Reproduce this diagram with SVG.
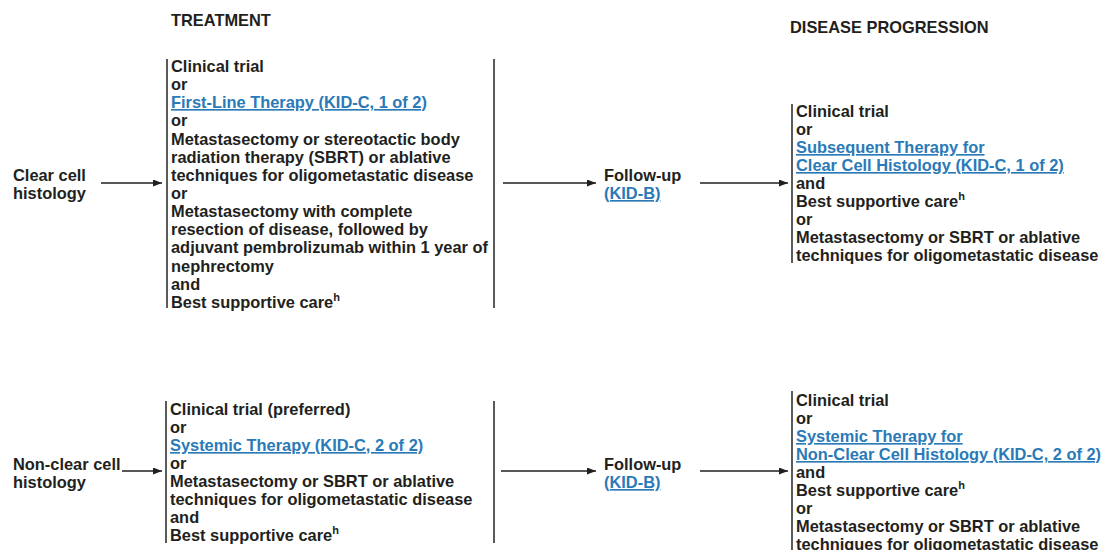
<svg xmlns="http://www.w3.org/2000/svg" width="1104" height="550" viewBox="0 0 1104 550">
<defs>
<marker id="ah" viewBox="0 0 10 10" refX="10" refY="5" markerWidth="9" markerHeight="7" markerUnits="userSpaceOnUse" orient="auto" preserveAspectRatio="none"><path d="M0,0 L10,5 L0,10 z" fill="#231f20"/></marker>
<style>
text{font-family:"Liberation Sans",Arial,Helvetica,sans-serif;font-weight:bold;font-size:16.4px;fill:#231f20}
.lnk{fill:#2a7ab8;text-decoration:underline}
.sup{font-size:11px}
.br{stroke:#333;stroke-width:1.6;fill:none}
.ar{stroke:#231f20;stroke-width:1.3;fill:none;marker-end:url(#ah)}
</style>
</defs>
<rect width="1104" height="550" fill="#fff"/>
<g id="headers">
<text x="171" y="26">TREATMENT</text>
<text x="790" y="33">DISEASE PROGRESSION</text>
</g>
<g id="clear-cell">
<text x="13" y="181">Clear cell</text>
<text x="13" y="199">histology</text>
</g>
<g id="treatment-clear">
<path class="br" d="M167,59 V308 M494,59 V308"/>
<text x="171" y="72">Clinical trial</text>
<text x="171" y="90">or</text>
<text x="171" y="108" class="lnk">First-Line Therapy (KID-C, 1 of 2)</text>
<text x="171" y="126">or</text>
<text x="171" y="145">Metastasectomy or stereotactic body</text>
<text x="171" y="163">radiation therapy (SBRT) or ablative</text>
<text x="171" y="181">techniques for oligometastatic disease</text>
<text x="171" y="199">or</text>
<text x="171" y="217">Metastasectomy with complete</text>
<text x="171" y="235">resection of disease, followed by</text>
<text x="171" y="253">adjuvant pembrolizumab within 1 year of</text>
<text x="171" y="272">nephrectomy</text>
<text x="171" y="290">and</text>
<text x="171" y="308">Best supportive care<tspan class="sup" dy="-7">h</tspan></text>
</g>
<g id="followup-clear">
<text x="604" y="181">Follow-up</text>
<text x="604" y="199" class="lnk">(KID-B)</text>
</g>
<g id="progression-clear">
<path class="br" d="M792,104 V263"/>
<text x="796" y="117">Clinical trial</text>
<text x="796" y="135">or</text>
<text x="796" y="153" class="lnk">Subsequent Therapy for</text>
<text x="796" y="171" class="lnk">Clear Cell Histology (KID-C, 1 of 2)</text>
<text x="796" y="189">and</text>
<text x="796" y="207">Best supportive care<tspan class="sup" dy="-7">h</tspan></text>
<text x="796" y="225">or</text>
<text x="796" y="243">Metastasectomy or SBRT or ablative</text>
<text x="796" y="261">techniques for oligometastatic disease</text>
</g>
<g id="non-clear-cell">
<text x="13" y="470">Non-clear cell</text>
<text x="13" y="488">histology</text>
</g>
<g id="treatment-nonclear">
<path class="br" d="M166,401 V543 M494,401 V543"/>
<text x="170" y="415">Clinical trial (preferred)</text>
<text x="170" y="433">or</text>
<text x="170" y="451" class="lnk">Systemic Therapy (KID-C, 2 of 2)</text>
<text x="170" y="469">or</text>
<text x="170" y="487">Metastasectomy or SBRT or ablative</text>
<text x="170" y="505">techniques for oligometastatic disease</text>
<text x="170" y="523">and</text>
<text x="170" y="541">Best supportive care<tspan class="sup" dy="-7">h</tspan></text>
</g>
<g id="followup-nonclear">
<text x="604" y="470">Follow-up</text>
<text x="604" y="488" class="lnk">(KID-B)</text>
</g>
<g id="progression-nonclear">
<path class="br" d="M792,391 V550"/>
<text x="796" y="406">Clinical trial</text>
<text x="796" y="424">or</text>
<text x="796" y="442" class="lnk">Systemic Therapy for</text>
<text x="796" y="460" class="lnk">Non-Clear Cell Histology (KID-C, 2 of 2)</text>
<text x="796" y="478">and</text>
<text x="796" y="496">Best supportive care<tspan class="sup" dy="-7">h</tspan></text>
<text x="796" y="514">or</text>
<text x="796" y="532">Metastasectomy or SBRT or ablative</text>
<text x="796" y="550">techniques for oligometastatic disease</text>
</g>
<g id="connectors">
<line class="ar" x1="101" y1="183" x2="162" y2="183"/>
<line class="ar" x1="503" y1="183" x2="596" y2="183"/>
<line class="ar" x1="700" y1="183" x2="788" y2="183"/>
<line class="ar" x1="122" y1="471" x2="162" y2="471"/>
<line class="ar" x1="501" y1="471" x2="596" y2="471"/>
<line class="ar" x1="700" y1="471" x2="788" y2="471"/>
</g>
</svg>
